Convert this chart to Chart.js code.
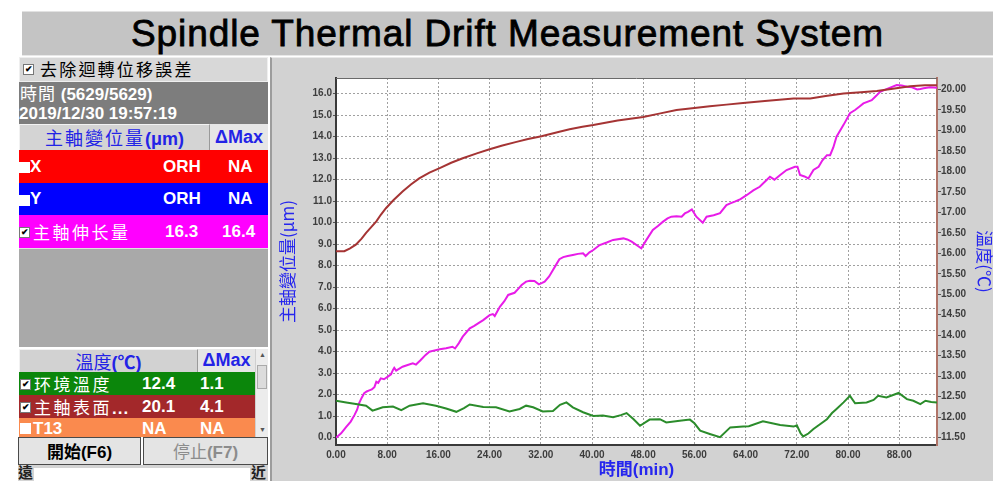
<!DOCTYPE html>
<html>
<head>
<meta charset="utf-8">
<script src="https://cdn.jsdelivr.net/npm/chart.js@4.4.1/dist/chart.umd.min.js"></script>
<style>
  body { margin: 0; width: 993px; height: 481px; background: #fff; position: relative; overflow: hidden;
         font-family: 'Liberation Sans', 'Noto Sans CJK TC', sans-serif; }
  .abs { position: absolute; box-sizing: border-box; }
  .cjk { font-family: 'Noto Sans CJK TC', sans-serif; }
  .w { color: #fff; font-weight: bold; font-size: 17px; }
  .row { position: absolute; left: 19px; width: 249px; box-sizing: border-box; }
  .cell { position: absolute; white-space: nowrap; }
  .chk { position: absolute; width: 9px; height: 9px; background: #fff; border: 1px solid #777; font-size: 9px;
         line-height: 8px; text-align: center; color: #000; font-weight: bold; }
  .btn { position: absolute; top: 437px; height: 28px; border: 1px solid #4a4a4a; background: #e4e4e4;
         text-align: center; line-height: 26px; font-size: 17px; font-weight: bold; box-sizing: border-box; }
</style>
</head>
<body>

<div class="abs" style="left:22px;top:11px;width:971px;height:45px;background:#c4c4c4;border-top:1px solid #e2e2e2;border-bottom:1px solid #e8e8e8;text-align:center;font-size:37px;line-height:43px;color:#000;letter-spacing:0.9px;-webkit-text-stroke:0.8px #000;">Spindle Thermal Drift Measurement System</div>

<!-- left panel -->
<div class="row" style="top:57px;height:25px;background:#d8d8d8;border:1px solid #efefef;">
  <div class="chk" style="left:3px;top:6px;">✔</div>
  <div class="cell cjk" style="left:20px;top:0px;font-size:17px;line-height:22px;letter-spacing:2.2px;color:#000;">去除迴轉位移誤差</div>
</div>
<div class="row" style="top:82px;height:42px;background:#7d7d7d;">
  <div class="cell w" style="left:1px;top:1px;line-height:20px;"><span class="cjk" style="font-weight:normal;letter-spacing:1px;">時間</span> (5629/5629)</div>
  <div class="cell w" style="left:0px;top:22px;line-height:20px;">2019/12/30 19:57:19</div>
</div>
<div class="row" style="top:124px;height:26px;background:#e6e6e6;">
  <div class="cell" style="left:0;top:0;width:189px;height:26px;background:#d4d4d4;border:1px solid #f2f2f2;border-right:1px solid #9a9a9a;text-align:center;line-height:24px;color:#2323e6;font-size:18px;font-weight:bold;"><span class="cjk" style="font-weight:normal;letter-spacing:2px;">主軸變位量</span>(μm)</div>
  <div class="cell" style="left:191px;top:0;width:58px;height:26px;text-align:center;line-height:26px;color:#2323e6;font-size:18px;font-weight:bold;">ΔMax</div>
</div>
<div class="row w" style="top:150px;height:33px;background:#ff0000;line-height:33px;">
  <div class="chk" style="left:0px;top:12px;border-color:#fff;"></div>
  <div class="cell" style="left:11px;">X</div>
  <div class="cell" style="left:144px;">ORH</div>
  <div class="cell" style="left:209px;">NA</div>
</div>
<div class="row w" style="top:183px;height:32px;background:#0000ff;line-height:32px;">
  <div class="chk" style="left:0px;top:12px;border-color:#fff;"></div>
  <div class="cell" style="left:11px;">Y</div>
  <div class="cell" style="left:144px;">ORH</div>
  <div class="cell" style="left:209px;">NA</div>
</div>
<div class="row w" style="top:215px;height:33px;background:#ff00ff;line-height:33px;">
  <div class="chk" style="left:0px;top:12px;">✔</div>
  <div class="cell cjk" style="left:14px;font-weight:normal;letter-spacing:2.5px;">主軸伸长量</div>
  <div class="cell" style="left:146px;">16.3</div>
  <div class="cell" style="left:203px;">16.4</div>
</div>
<div class="row" style="top:248px;height:99px;background:#a9a9a9;border-top:1px solid #e0e0e0;"></div>

<div class="row" style="top:349px;height:23px;background:#e6e6e6;">
  <div class="cell" style="left:0;top:0;width:177px;height:23px;background:#d2d2d2;border:1px solid #f2f2f2;border-right:1px solid #9a9a9a;text-align:center;line-height:22px;color:#2323e6;font-size:18px;font-weight:bold;"><span class="cjk" style="font-weight:normal;">溫度</span>(℃)</div>
  <div class="cell" style="left:179px;top:0;width:57px;height:23px;text-align:center;line-height:23px;color:#2323e6;font-size:18px;font-weight:bold;">ΔMax</div>
</div>
<div class="row w" style="top:372px;height:23px;width:236px;background:#0b860b;line-height:23px;">
  <div class="chk" style="left:1px;top:7px;">✔</div>
  <div class="cell cjk" style="left:15px;font-weight:normal;letter-spacing:2.5px;">环境溫度</div>
  <div class="cell" style="left:123px;">12.4</div>
  <div class="cell" style="left:181px;">1.1</div>
</div>
<div class="row w" style="top:395px;height:23px;width:236px;background:#a3282a;line-height:23px;">
  <div class="chk" style="left:1px;top:7px;">✔</div>
  <div class="cell cjk" style="left:15px;font-weight:normal;letter-spacing:2.5px;">主軸表面<span style="font-family:'Liberation Sans';font-weight:bold;letter-spacing:1px;">...</span></div>
  <div class="cell" style="left:123px;">20.1</div>
  <div class="cell" style="left:181px;">4.1</div>
</div>
<div class="row w" style="top:418px;height:19px;width:236px;background:#fa8a4e;line-height:19px;overflow:hidden;">
  <div class="chk" style="left:1px;top:5px;border-color:#fff;"></div>
  <div class="cell" style="left:14px;top:1px;">T13</div>
  <div class="cell" style="left:123px;top:1px;">NA</div>
  <div class="cell" style="left:181px;top:1px;">NA</div>
</div>
<div class="abs" style="left:255px;top:349px;width:13px;height:88px;background:#ececec;border-left:1px solid #d0d0d0;">
  <div class="abs" style="left:3px;top:2px;font-size:7px;color:#555;">▲</div>
  <div class="abs" style="left:1px;top:16px;width:10px;height:24px;background:#dcdcdc;border:1px solid #aaa;"></div>
  <div class="abs" style="left:3px;top:77px;font-size:7px;color:#555;">▼</div>
</div>

<div class="btn" style="left:18px;width:123px;"><span class="cjk">開始</span>(F6)</div>
<div class="btn" style="left:143px;width:125px;color:#8c8c8c;"><span class="cjk" style="font-weight:normal;">停止</span>(F7)</div>

<div class="abs" style="left:18px;top:465px;width:250px;height:16px;background:#d4d4d4;">
  <div class="abs cjk" style="left:0;top:-2px;font-size:15px;line-height:18px;font-weight:bold;color:#222;">遠</div>
  <div class="abs" style="left:16px;top:3px;width:216px;height:13px;background:#fff;"></div>
  <div class="abs cjk" style="left:233px;top:-2px;font-size:15px;line-height:18px;font-weight:bold;color:#222;">近</div>
</div>

<!-- chart panel -->
<div class="abs" style="left:270px;top:57px;width:723px;height:424px;background:#d2d2d2;border-left:2px solid #9c9c9c;border-top:1px solid #eaeaea;"></div>
<div class="abs" style="left:270px;top:57px;width:723px;height:424px;">
  <canvas id="chartDrift"></canvas>
</div>

<script>
// 主軸伸长量 (μm)
var dispTime = [0, 0.8, 1.6, 2.3, 2.9, 3.3, 3.6, 4.0, 4.4, 4.8, 5.2, 5.6, 6.0, 6.3, 6.6, 7.0, 7.5, 8.1, 8.6, 8.9, 9.1, 9.4,
  10.4, 11.2, 12.0, 12.5, 13.2, 14.0, 14.6, 15.4, 16.2, 17.2, 18.2, 18.6, 19.2, 19.8, 20.9, 21.6, 22.2, 23.0, 24.0, 24.5,
  24.8, 25.6, 26.3, 26.9, 27.9, 28.4, 29.0, 29.7, 30.3, 31.0, 31.7, 32.2, 32.6, 33.3, 33.9, 34.4, 34.9, 35.5, 36.2, 37.0,
  37.8, 38.6, 39.0, 39.6, 40.2, 41.2, 42.3, 43.3, 44.9, 45.5, 46.2, 47.0, 47.7, 48.5, 49.5, 50.3, 51.1, 51.8, 52.4, 53.2,
  54.0, 54.5, 55.0, 55.6, 56.3, 57.3, 57.9, 59.0, 60.0, 61.0, 61.6, 62.3, 63.2, 64.2, 65.2, 66.2, 67.0, 67.8, 68.5, 69.4,
  70.4, 71.7, 72.1, 72.5, 73.2, 73.8, 74.6, 75.4, 76.0, 76.7, 77.2, 77.7, 78.2, 79.3, 80.3, 81.1, 81.8, 82.4, 83.7, 84.4,
  85.0, 86.3, 87.6, 88.4, 89.2, 90.0, 90.8, 91.3, 91.8, 92.8, 93.9]
var dispValue = [0.0, 0.2, 0.5, 0.75, 1.06, 1.3, 1.6, 1.85, 2.07, 2.15, 2.2, 2.25, 2.35, 2.6, 2.55, 2.76, 2.72, 2.84, 2.95, 3.15, 3.25, 3.12,
  3.3, 3.38, 3.46, 3.4, 3.6, 3.85, 4.0, 4.06, 4.11, 4.16, 4.23, 4.15, 4.4, 4.7, 5.09, 5.2, 5.32, 5.47, 5.7, 5.75,
  5.66, 6.09, 6.35, 6.64, 6.74, 6.9, 7.1, 7.26, 7.3, 7.29, 7.13, 7.2, 7.26, 7.5, 7.8, 8.05, 8.3, 8.4, 8.45, 8.5,
  8.55, 8.58, 8.45, 8.62, 8.73, 8.96, 9.08, 9.2, 9.27, 9.22, 9.12, 8.95, 8.81, 9.2, 9.66, 9.85, 10.05, 10.2, 10.28, 10.3,
  10.28, 10.43, 10.5, 10.62, 10.28, 10.0, 10.28, 10.35, 10.44, 10.82, 10.9, 10.98, 11.1, 11.29, 11.5, 11.67, 11.9, 12.14, 12.0, 12.22,
  12.45, 12.6, 12.6, 12.22, 12.15, 12.06, 12.45, 12.6, 12.9, 13.14, 13.14, 13.5, 14.0, 14.55, 15.09, 15.24, 15.4, 15.55, 15.7, 15.9,
  16.09, 16.25, 16.4, 16.38, 16.32, 16.3, 16.2, 16.22, 16.25, 16.3, 16.28]

// 主軸表面溫度 (℃)
var spindleTime = [0, 1.3, 2.2, 3.1, 4.0, 4.7, 5.5, 6.3, 7.0, 7.8, 9.0, 10.4, 11.7, 13.0, 14.6, 16.2, 18.0, 19.8, 22.0, 24.0,
  26.0, 28.2, 30.0, 32.1, 34.9, 36.5, 38.5, 40.2, 44.0, 48.0, 50.5, 53.2, 56.0, 58.4, 61.0, 63.6, 67.0, 71.5, 74.1, 76.5,
  79.3, 82.0, 84.5, 87.0, 89.7, 92.0, 93.9]
var spindleTemp = [16.05, 16.05, 16.12, 16.21, 16.36, 16.5, 16.64, 16.78, 16.94, 17.1, 17.3, 17.51, 17.68, 17.83, 17.97, 18.08, 18.21, 18.32, 18.44, 18.54,
  18.63, 18.72, 18.79, 18.86, 18.97, 19.03, 19.09, 19.13, 19.24, 19.33, 19.41, 19.5, 19.55, 19.59, 19.63, 19.67, 19.72, 19.78, 19.78, 19.84,
  19.9, 19.93, 19.96, 20.02, 20.08, 20.1, 20.1]

// 环境溫度 (℃)
var ambientTime = [0, 1.6, 3.1, 4.7, 5.7, 6.5, 7.3, 8.9, 10.2, 11.5, 13.6, 15.6, 17.2, 18.8, 20.0, 20.9, 23.0, 25.0, 27.1, 28.7,
  29.7, 30.8, 32.3, 33.9, 35.0, 36.0, 37.0, 38.6, 40.2, 41.7, 43.3, 44.5, 45.4, 46.5, 47.5, 49.0, 50.6, 51.6, 53.7, 55.3,
  56.0, 56.9, 58.4, 60.0, 61.6, 63.6, 64.5, 66.7, 69.4, 71.5, 72.0, 72.6, 73.0, 73.8, 74.6, 76.7, 77.5, 78.2, 79.3, 80.3,
  81.1, 82.9, 84.0, 84.7, 86.0, 87.9, 89.2, 90.2, 91.3, 92.1, 93.0, 93.9]
var ambientTemp = [12.40, 12.36, 12.32, 12.28, 12.16, 12.2, 12.24, 12.26, 12.17, 12.28, 12.34, 12.28, 12.21, 12.13, 12.22, 12.31, 12.25, 12.24, 12.14, 12.2,
  12.28, 12.24, 12.14, 12.15, 12.3, 12.36, 12.24, 12.12, 12.03, 12.04, 12.0, 12.05, 12.1, 11.95, 11.79, 11.94, 11.95, 11.87, 11.91, 11.94,
  11.85, 11.67, 11.59, 11.51, 11.75, 11.77, 11.78, 11.9, 11.81, 11.77, 11.8, 11.6, 11.53, 11.6, 11.71, 11.95, 12.1, 12.2, 12.36, 12.52,
  12.34, 12.36, 12.42, 12.52, 12.48, 12.59, 12.44, 12.4, 12.32, 12.4, 12.37, 12.36]

// axis ranges / ticks
var timeRange = [0, 93.9]
var timeStep = 8
var dispRange = [-0.34, 16.73]
var dispStep = 1
var tempRange = [11.32, 20.28]
var tempStep = 0.5

function toPoints(xs, ys) {
  return xs.map((x, i) => ({ x: x, y: ys[i] }))
}

var tickFont = { family: 'Liberation Sans', size: 10, weight: 'bold' }
var titleBlue = '#2626ee'

// white plot area with a thin top edge
var plotFrame = {
  id: 'plotFrame',
  beforeDraw: chart => {
    var a = chart.chartArea
    var c = chart.ctx
    c.save()
    c.fillStyle = '#ffffff'
    c.fillRect(a.left, a.top, a.right - a.left, a.bottom - a.top)
    c.restore()
  },
  beforeDatasetsDraw: chart => {
    var a = chart.chartArea
    var c = chart.ctx
    c.save()
    c.strokeStyle = '#6a6a6a'
    c.lineWidth = 1
    c.beginPath()
    c.moveTo(a.left, a.top + 0.5)
    c.lineTo(a.right, a.top + 0.5)
    c.stroke()
    c.restore()
  }
}

var ctx = document.getElementById('chartDrift').getContext('2d')

var chartDrift = new Chart(ctx, {
  type: 'line',
  data: {
    datasets: [{
      label: '主軸表面溫度',
      data: toPoints(spindleTime, spindleTemp),
      yAxisID: 'yTemp',
      borderColor: '#a53434',
      borderWidth: 2,
      pointRadius: 0
    }, {
      label: '环境溫度',
      data: toPoints(ambientTime, ambientTemp),
      yAxisID: 'yTemp',
      borderColor: '#2b8c2b',
      borderWidth: 2,
      pointRadius: 0
    }, {
      label: '主軸伸长量',
      data: toPoints(dispTime, dispValue),
      yAxisID: 'yDisp',
      borderColor: '#e81ce8',
      borderWidth: 2,
      pointRadius: 0
    }]
  },
  options: {
    responsive: true,
    maintainAspectRatio: false,
    animation: false,
    layout: { padding: { top: 21, left: 0, right: 0, bottom: 0 } },
    plugins: { legend: { display: false }, tooltip: { enabled: false } },
    elements: { line: { tension: 0 } },
    scales: {
      x: {
        type: 'linear',
        min: timeRange[0],
        max: timeRange[1],
        afterFit: s => { s.height = 36 },
        ticks: {
          stepSize: timeStep, includeBounds: false, autoSkip: false, maxRotation: 0, padding: 4,
          color: '#3d3d3d', font: tickFont,
          callback: v => v.toFixed(2)
        },
        grid: { color: '#a0a0a0', lineWidth: 1, drawTicks: false },
        border: { color: '#3a3a3a', width: 2, dash: [2, 2] },
        title: {
          display: true, text: '時間(min)', color: titleBlue, padding: 0,
          font: { family: "'Liberation Sans', 'Noto Sans CJK TC'", size: 17, weight: 'bold' }
        }
      },
      yDisp: {
        position: 'left',
        min: dispRange[0],
        max: dispRange[1],
        afterFit: s => { s.width = 66 },
        ticks: {
          stepSize: dispStep, includeBounds: false, padding: 1,
          color: '#3d3d3d', font: tickFont,
          callback: v => v.toFixed(1)
        },
        grid: { color: '#a0a0a0', lineWidth: 1, tickLength: 3, tickColor: '#555' },
        border: { color: '#3a3a3a', width: 2, dash: [2, 2] },
        title: {
          display: true, text: '主軸變位量(μm)', color: titleBlue, padding: { top: 7 },
          font: { family: "'Noto Sans CJK TC'", size: 17 }
        }
      },
      yTemp: {
        position: 'right',
        min: tempRange[0],
        max: tempRange[1],
        afterFit: s => { s.width = 56 },
        ticks: {
          stepSize: tempStep, includeBounds: false, padding: 0,
          color: '#3d3d3d', font: tickFont,
          callback: v => v.toFixed(2)
        },
        grid: { drawOnChartArea: false, tickLength: 4, tickColor: '#555' },
        border: { color: '#b07468', width: 2 },
        title: {
          display: true, text: '溫度(℃)', color: titleBlue, padding: 0,
          font: { family: "'Noto Sans CJK TC'", size: 17, lineHeight: 1 }
        }
      }
    }
  },
  plugins: [plotFrame]
})
</script>
</body>
</html>
